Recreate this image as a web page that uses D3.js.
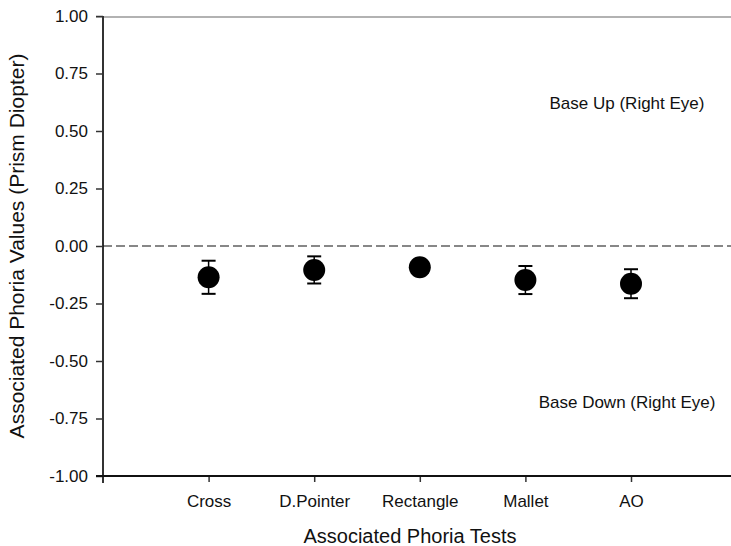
<!DOCTYPE html>
<html><head><meta charset="utf-8">
<script src="https://cdn.jsdelivr.net/npm/d3@7"></script>
<style>body{margin:0;background:#fff}svg{display:block}text{font-family:Arial,"Liberation Sans",sans-serif;fill:#111}</style>
</head><body>
<svg id="c" width="731" height="546"></svg>
<script>
const categories = ["Cross","D.Pointer","Rectangle","Mallet","AO"];
const means = [-0.136,-0.104,-0.092,-0.148,-0.164];
const errors = [0.072,0.059,0.03,0.061,0.063];
const yTicks = [1.00,0.75,0.50,0.25,0.00,-0.25,-0.50,-0.75,-1.00];

const svg = d3.select("#c");
const x = d3.scaleLinear().domain([0,5]).range([103,631]);
const y = d3.scaleLinear().domain([-1,1]).range([476,16]);

// top gray line
svg.append("line").attr("x1",96).attr("x2",731).attr("y1",y(1)+1).attr("y2",y(1)+1)
  .attr("stroke","#999").attr("stroke-width",1.5);

// y axis
const ya = svg.append("g").attr("transform","translate(103,0)")
  .call(d3.axisLeft(y).tickValues(yTicks).tickFormat(d=>d.toFixed(2)).tickSize(7).tickSizeOuter(0));
ya.select(".domain").remove();
ya.append("line").attr("x1",0).attr("x2",0).attr("y1",y(1)).attr("y2",y(-1)+7).attr("stroke","#333").attr("stroke-width",2);
ya.selectAll(".tick line").attr("stroke","#333").attr("stroke-width",1.5);
ya.selectAll(".tick text").attr("font-size",17).attr("x",-15).style("fill","#111");

// x axis
const xa = svg.append("g").attr("transform",`translate(0,${y(-1)})`)
  .call(d3.axisBottom(x).tickValues([1,2,3,4,5]).tickFormat((d)=>categories[d-1]).tickSize(6).tickSizeOuter(0));
xa.select(".domain").remove();
xa.append("line").attr("x1",96).attr("x2",731).attr("y1",0).attr("y2",0).attr("stroke","#111").attr("stroke-width",2);
xa.selectAll(".tick line").attr("stroke","#333").attr("stroke-width",1.5);
xa.selectAll(".tick text").attr("font-size",17).attr("y",31).attr("dy",0).style("fill","#111");

// zero dashed line
svg.append("line").attr("x1",103).attr("x2",731).attr("y1",y(0)).attr("y2",y(0))
  .attr("stroke","#111").attr("stroke-width",1.2).attr("stroke-dasharray","9,4");

// error bars & points
const g = svg.append("g");
categories.forEach((c,i)=>{
  const cx = x(i+1);
  const t = y(means[i]+errors[i]), b = y(means[i]-errors[i]);
  g.append("line").attr("x1",cx).attr("x2",cx).attr("y1",t).attr("y2",b).attr("stroke","#000").attr("stroke-width",1.5);
  [t,b].forEach(v=>g.append("line").attr("x1",cx-7).attr("x2",cx+7).attr("y1",v).attr("y2",v).attr("stroke","#000").attr("stroke-width",2));
  g.append("circle").attr("cx",cx).attr("cy",y(means[i])).attr("r",11).attr("fill","#000");
});

// annotations
svg.append("text").attr("x",627).attr("y",109).attr("text-anchor","middle").attr("font-size",17).text("Base Up (Right Eye)");
svg.append("text").attr("x",627).attr("y",408).attr("text-anchor","middle").attr("font-size",17).text("Base Down (Right Eye)");

// titles
svg.append("text").attr("x",410).attr("y",543).attr("text-anchor","middle").attr("font-size",20).text("Associated Phoria Tests");
svg.append("text").attr("transform",`translate(24,${y(0)}) rotate(-90)`).attr("text-anchor","middle").attr("font-size",21).text("Associated Phoria Values (Prism Diopter)");
</script>
</body></html>
